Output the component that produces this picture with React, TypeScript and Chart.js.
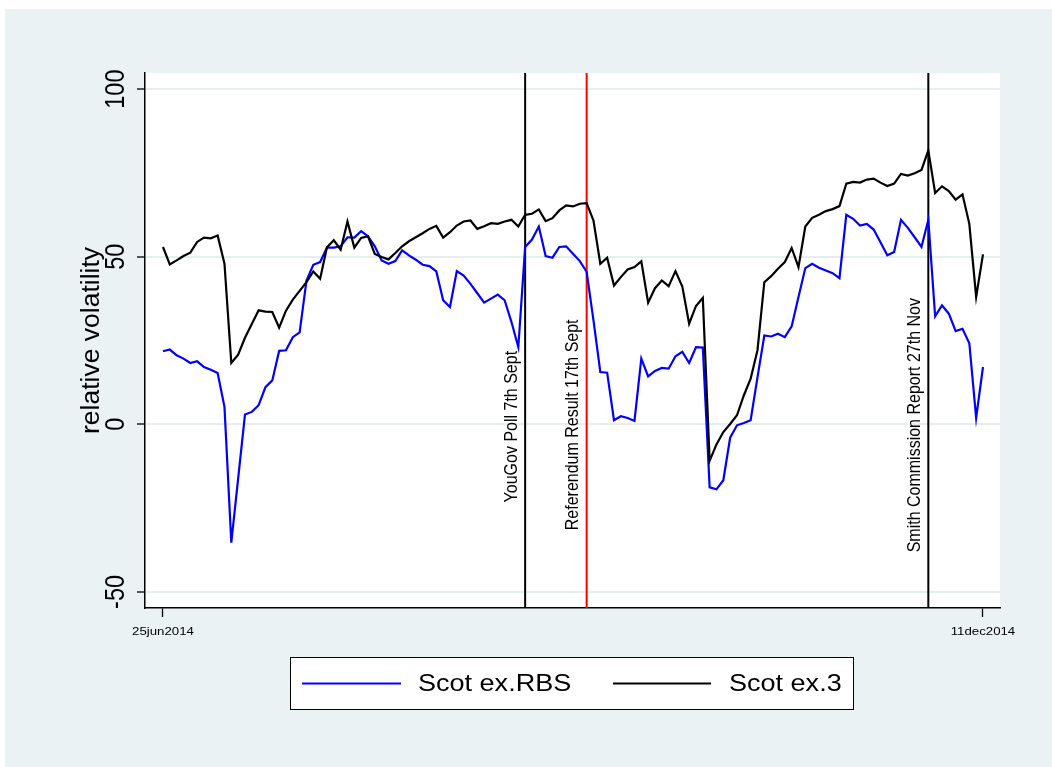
import React, { useEffect, useRef } from 'react';
import { Chart, registerables } from 'chart.js';

Chart.register(...registerables);

// Relative volatility, one value per trading day from 25 Jun 2014 to 11 Dec 2014
const scotExRBS = [
  21.8, 22.3, 20.6, 19.6, 18.3, 18.8, 17.1, 16.3, 15.3, 5.2,
  -35.3, -16.2, 2.9, 3.7, 5.7, 11.1, 13.1, 21.9, 22.1, 26.0,
  27.4, 42.9, 47.6, 48.4, 52.7, 52.7, 53.1, 55.8, 55.7, 57.6,
  56.1, 53.1, 48.9, 47.9, 48.7, 51.9, 50.4, 49.1, 47.6, 47.2,
  45.6, 37.0, 35.0, 45.7, 44.4, 41.9, 39.1, 36.3, 37.5, 38.7,
  37.0, 30.5, 23.0, 52.9, 55.1, 59.0, 50.2, 49.7, 52.9, 53.1,
  50.9, 48.7, 45.5, 31.0, 15.6, 15.4, 1.2, 2.4, 1.9, 1.0,
  19.6, 14.3, 15.9, 16.8, 16.6, 20.3, 21.6, 18.3, 23.0, 22.9,
  -18.8, -19.4, -16.7, -4.0, -0.3, 0.4, 1.2, 14.0, 26.5, 26.2,
  27.0, 26.0, 29.2, 38.0, 46.6, 47.9, 46.7, 45.9, 45.1, 43.6,
  62.5, 61.3, 59.3, 59.8, 58.1, 54.3, 50.4, 51.4, 61.0, 58.6,
  55.8, 52.9, 61.0, 32.2, 35.5, 33.0, 27.8, 28.5, 24.2, 1.9,
  17.1,
];

const scotEx3 = [
  52.9, 47.7, 48.9, 50.2, 51.2, 54.4, 55.7, 55.5, 56.3, 47.9,
  18.3, 20.8, 25.8, 29.9, 34.0, 33.6, 33.5, 28.8, 33.9, 37.2,
  39.8, 42.4, 45.6, 43.4, 52.8, 54.9, 52.1, 60.5, 52.7, 55.6,
  56.1, 50.8, 49.9, 49.2, 51.1, 53.1, 54.6, 55.8, 57.0, 58.3,
  59.2, 55.7, 57.3, 59.3, 60.5, 60.8, 58.3, 59.1, 60.0, 59.8,
  60.5, 61.0, 59.0, 62.5, 62.8, 64.1, 60.6, 61.5, 63.8, 65.3,
  65.0, 65.8, 66.0, 60.8, 47.9, 49.7, 41.4, 43.9, 46.2, 46.9,
  48.6, 36.3, 40.6, 42.9, 41.2, 45.7, 41.1, 30.0, 35.3, 37.7,
  -10.9, -6.0, -2.3, 0.1, 2.7, 8.6, 13.6, 22.1, 42.4, 44.2,
  46.4, 48.4, 52.6, 46.9, 59.0, 61.6, 62.5, 63.6, 64.2, 65.1,
  71.8, 72.3, 72.1, 73.0, 73.3, 72.1, 71.1, 71.8, 74.7, 74.2,
  74.9, 75.9, 81.7, 69.0, 71.0, 69.6, 67.0, 68.6, 59.8, 38.0,
  50.7,
];

const seriesNames = ['Scot ex.RBS', 'Scot ex.3'];

// Trading-day index of each tick and its date label
const xTickValues = [0, 120];
const xTickLabels = ['25jun2014', '11dec2014'];
const yTickValues = [-50, 0, 50, 100];
const yAxisTitle = 'relative volatility';

// Marked events (trading-day index)
const eventNames = ['YouGov Poll 7th Sept', 'Referendum Result 17th Sept', 'Smith Commission Report 27th Nov'];
const eventDays = [53, 62, 112];

// Styling / placement
const FONT = "'Liberation Sans', Arial, Helvetica, sans-serif";
const STRETCH = 1.15;
const eventColors = ['#000000', '#FF0000', '#000000'];
const eventTextStart = [-23.3, -31.6, -38.2];
const seriesColors = ['#0000FF', '#000000'];
const BG = '#EAF2F3';

function drawText(
  ctx: CanvasRenderingContext2D,
  text: string,
  x: number,
  y: number,
  angle: number,
  align: CanvasTextAlign,
  baseline: CanvasTextBaseline,
  size: number,
  color = '#000',
  stretch = STRETCH
) {
  ctx.save();
  ctx.translate(x, y);
  ctx.scale(stretch, 1);
  ctx.rotate(angle);
  ctx.font = `${size}px ${FONT}`;
  ctx.textAlign = align;
  ctx.textBaseline = baseline;
  ctx.fillStyle = color;
  ctx.fillText(text, 0, 0);
  ctx.restore();
}

const backgroundPlugin = {
  id: 'stataBackground',
  beforeDraw(chart: any) {
    const { ctx, chartArea, width, height } = chart;
    ctx.save();
    ctx.fillStyle = '#FFFFFF';
    ctx.fillRect(0, 0, width, height);
    ctx.fillStyle = BG;
    ctx.fillRect(5, 9, width - 5, height - 9);
    ctx.fillStyle = '#FFFFFF';
    ctx.fillRect(chartArea.left, chartArea.top, chartArea.right - chartArea.left, chartArea.bottom - chartArea.top);
    ctx.restore();
  },
};

const eventPlugin = {
  id: 'eventLines',
  beforeDatasetsDraw(chart: any) {
    const { ctx, chartArea, scales } = chart;
    eventDays.forEach((d, i) => {
      const x = scales.x.getPixelForValue(d);
      ctx.save();
      ctx.strokeStyle = eventColors[i];
      ctx.lineWidth = 2;
      ctx.beginPath();
      ctx.moveTo(x, chartArea.top);
      ctx.lineTo(x, chartArea.bottom);
      ctx.stroke();
      ctx.restore();
      const y = scales.y.getPixelForValue(eventTextStart[i]);
      drawText(ctx, eventNames[i], x - 8.5, y, -Math.PI / 2, 'left', 'alphabetic', 16);
    });
  },
};

const labelsPlugin = {
  id: 'axisText',
  afterDraw(chart: any) {
    const { ctx, chartArea, scales } = chart;
    // y tick labels, rotated
    yTickValues.forEach((v) => {
      const y = scales.y.getPixelForValue(v);
      drawText(ctx, String(v), 124, y, -Math.PI / 2, 'center', 'alphabetic', 23.5);
    });
    // y axis title
    drawText(ctx, yAxisTitle, 99, (chartArea.top + chartArea.bottom) / 2, -Math.PI / 2, 'center', 'alphabetic', 26.5, '#000', 1.0);
    // x tick labels
    xTickValues.forEach((v, i) => {
      const x = scales.x.getPixelForValue(v);
      drawText(ctx, xTickLabels[i], x, 632, 0, 'center', 'middle', 11.5);
    });
    // legend
    const lx = 290.5, ly = 657.5, lw = 563, lh = 52;
    ctx.save();
    ctx.fillStyle = '#FFFFFF';
    ctx.fillRect(lx, ly, lw, lh);
    ctx.strokeStyle = '#000000';
    ctx.lineWidth = 1;
    ctx.strokeRect(lx, ly, lw, lh);
    ctx.restore();
    const cy = ly + lh / 2;
    const entries = [
      { x0: 302, x1: 401, tx: 418 },
      { x0: 613, x1: 711, tx: 729 },
    ];
    chart.data.datasets.forEach((ds: any, i: number) => {
      const e = entries[i];
      ctx.save();
      ctx.strokeStyle = ds.borderColor;
      ctx.lineWidth = 2.2;
      ctx.beginPath();
      ctx.moveTo(e.x0, cy);
      ctx.lineTo(e.x1, cy);
      ctx.stroke();
      ctx.restore();
      drawText(ctx, ds.label, e.tx, cy + 1, 0, 'left', 'middle', 23.5);
    });
  },
};

export default function App() {
  const canvasRef = useRef<HTMLCanvasElement | null>(null);

  useEffect(() => {
    const canvas = canvasRef.current;
    if (!canvas) return;
    const series = [scotExRBS, scotEx3];
    const chart = new Chart(canvas, {
      type: 'line',
      data: {
        datasets: series.map((vals, i) => ({
          label: seriesNames[i],
          data: vals.map((v, d) => ({ x: d, y: v })),
          borderColor: seriesColors[i],
          backgroundColor: seriesColors[i],
          borderWidth: 2.2,
          pointRadius: 0,
          tension: 0,
          fill: false,
          order: i === 0 ? 1 : 0,
        })),
      },
      options: {
        responsive: false,
        animation: false,
        events: [],
        layout: { padding: { left: 145, top: 73, right: 52, bottom: 159 } },
        plugins: { legend: { display: false }, tooltip: { enabled: false }, title: { display: false } },
        scales: {
          x: {
            type: 'linear',
            min: -2.63,
            max: 122.49,
            afterBuildTicks: (scale: any) => {
              scale.ticks = xTickValues.map((v) => ({ value: v }));
            },
            afterFit: (scale: any) => {
              scale.height = 0;
            },
            ticks: { display: false },
            grid: { color: 'rgba(0,0,0,0)', tickColor: '#000', tickLength: 9, tickWidth: 1.3, drawOnChartArea: false },
            border: { display: true, color: '#000', width: 1.5 },
          },
          y: {
            type: 'linear',
            min: -54.8,
            max: 104.8,
            afterBuildTicks: (scale: any) => {
              scale.ticks = yTickValues.map((v) => ({ value: v }));
            },
            afterFit: (scale: any) => {
              scale.width = 0;
            },
            ticks: { display: false },
            grid: { color: '#E6EEF0', lineWidth: 2, tickColor: '#000', tickLength: 8, tickWidth: 1.3 },
            border: { display: true, color: '#000', width: 1.5 },
          },
        },
      },
      plugins: [backgroundPlugin, eventPlugin, labelsPlugin],
    });
    return () => chart.destroy();
  }, []);

  return (
    <canvas
      ref={canvasRef}
      width={1052}
      height={767}
      style={{ position: 'fixed', left: 0, top: 0, width: 1052, height: 767 }}
    />
  );
}
